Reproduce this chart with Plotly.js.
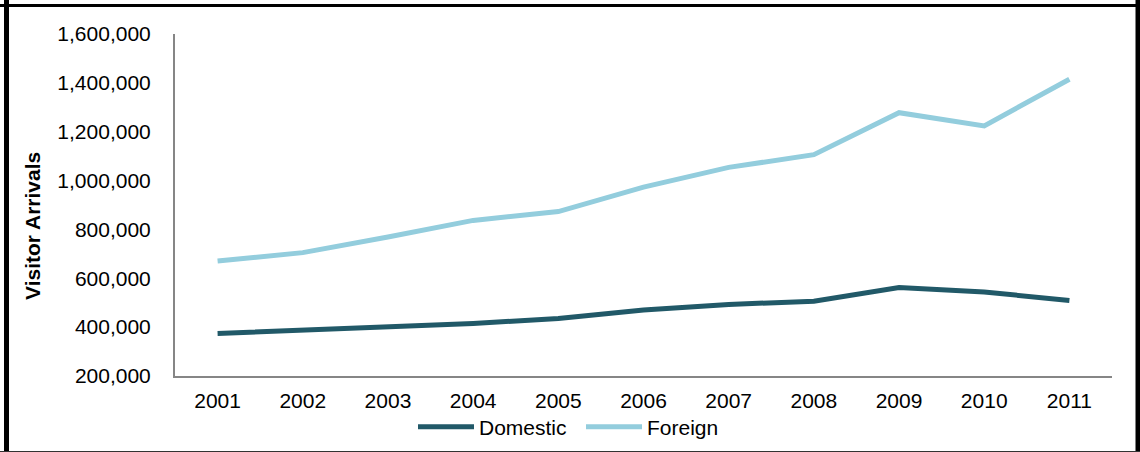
<!DOCTYPE html>
<html>
<head>
<meta charset="utf-8">
<script src="https://cdn.plot.ly/plotly-3.0.1.min.js"></script>
<style>
  html, body { margin: 0; padding: 0; background: #ffffff; }
  #chart { width: 1140px; height: 452px; }
</style>
</head>
<body>
<div id="chart"></div>
<script>
// Visitor arrivals by year
const years = ['2001', '2002', '2003', '2004', '2005', '2006', '2007', '2008', '2009', '2010', '2011'];
const domestic = [374000, 388000, 398000, 415000, 435000, 470000, 493000, 506000, 562000, 544000, 509000];
const foreign = [671000, 705000, 769000, 837000, 873000, 973000, 1054000, 1106000, 1278000, 1224000, 1415000];

const W = 1140, H = 452;
const M = { l: 175, r: 28, t: 34, b: 76, autoexpand: false };
const plotW = W - M.l - M.r, plotH = H - M.t - M.b;
// pixel -> paper coordinate helpers for frame and labels
const px = x => (x - M.l) / plotW;
const py = y => (H - M.b - y) / plotH;

const FONT = 'Liberation Sans, Arial, sans-serif';
const FS = 21;

const traces = [
  {
    x: years, y: domestic, name: 'Domestic', type: 'scatter', mode: 'lines',
    line: { color: '#215968', width: 5 }
  },
  {
    x: years, y: foreign, name: 'Foreign', type: 'scatter', mode: 'lines',
    line: { color: '#93cddd', width: 5 }
  }
];

const frame = (x0, y0, x1, y1, w, c) => ({
  type: 'line', xref: 'paper', yref: 'paper',
  x0: px(x0), y0: py(y0), x1: px(x1), y1: py(y1),
  line: { color: c, width: w }
});

const layout = {
  width: W, height: H,
  margin: M,
  paper_bgcolor: '#ffffff',
  plot_bgcolor: '#ffffff',
  font: { family: FONT, size: FS, color: '#000000' },
  showlegend: true,
  legend: {
    orientation: 'h',
    x: px(581), xanchor: 'center',
    y: py(427), yanchor: 'middle',
    font: { family: FONT, size: FS, color: '#000000' },
    itemwidth: 56,
    entrywidth: 97,
    tracegroupgap: 0,
    bgcolor: 'rgba(0,0,0,0)'
  },
  xaxis: {
    type: 'category',
    range: [-0.5, 10.5],
    automargin: false,
    showline: true, linecolor: '#868686', linewidth: 2,
    showgrid: false, zeroline: false,
    ticks: '', ticklabelstandoff: 5,
    tickfont: { family: FONT, size: FS, color: '#000000' },
    fixedrange: true
  },
  yaxis: {
    range: [200000, 1600000],
    dtick: 200000, tick0: 0,
    tickformat: ',d',
    automargin: false,
    showline: true, linecolor: '#868686', linewidth: 2,
    showgrid: false, zeroline: false,
    ticks: '', ticklabelstandoff: 18,
    tickfont: { family: FONT, size: FS, color: '#000000' },
    fixedrange: true
  },
  annotations: [
    {
      text: '<b>Visitor Arrivals</b>',
      xref: 'paper', yref: 'paper',
      x: px(32), y: py(226),
      xanchor: 'center', yanchor: 'middle',
      textangle: -90, showarrow: false,
      font: { family: FONT, size: FS, color: '#000000' }
    }
  ],
  shapes: [
    frame(6.5, 0, 6.5, H, 5, '#000000'),
    frame(0, 5.5, W, 5.5, 3, '#000000'),
    frame(1138, 0, 1138, H, 5, '#000000'),
    frame(0, 452.5, W, 452.5, 3, '#333333')
  ]
};

Plotly.newPlot('chart', traces, layout, { displayModeBar: false, staticPlot: true });
</script>
</body>
</html>
